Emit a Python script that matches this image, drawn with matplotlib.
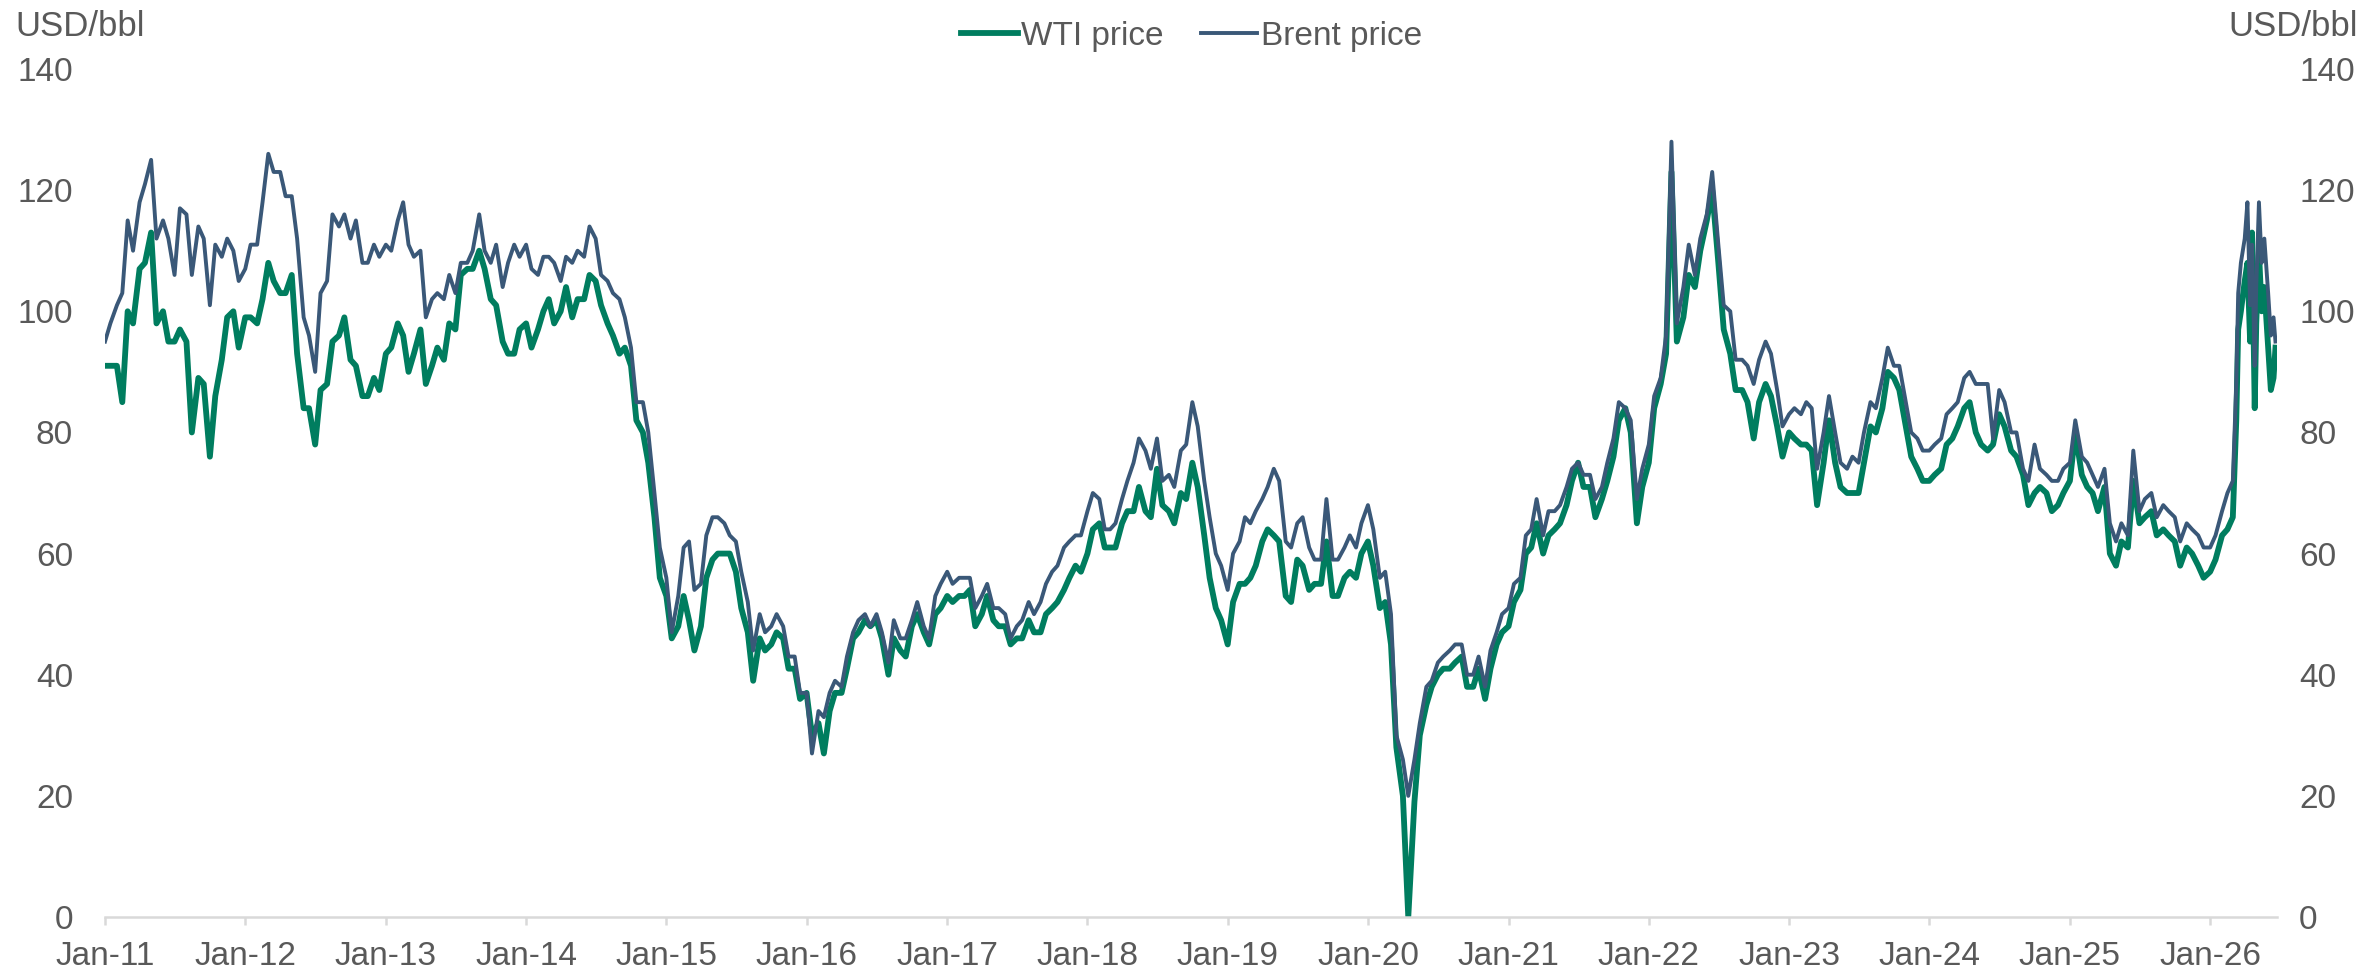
import numpy as np
import pandas as pd
import matplotlib
matplotlib.use('Agg')
import matplotlib.pyplot as plt
import matplotlib.dates as mdates

plt.rcParams['font.family'] = ['Liberation Sans', 'DejaVu Sans']
plt.rcParams['font.size'] = 24

# semi-monthly readings (1st and 15th), Jan-2011 .. Mar-2026
brent = [
    95, 98, 101, 103, 115, 110, 118, 121, 125, 112, 115, 112, 106, 117, 116, 106, 114, 112, 101, 111, 109, 112, 110, 105,  # 2011
    107, 111, 111, 118, 126, 123, 123, 119, 119, 112, 99, 96, 90, 103, 105, 116, 114, 116, 112, 115, 108, 108, 111, 109,  # 2012
    111, 110, 115, 118, 111, 109, 110, 99, 102, 103, 102, 106, 103, 108, 108, 110, 116, 110, 108, 111, 104, 108, 111, 109,  # 2013
    111, 107, 106, 109, 109, 108, 105, 109, 108, 110, 109, 114, 112, 106, 105, 103, 102, 99, 94, 85, 85, 80, 70, 61,  # 2014
    56, 47, 53, 61, 62, 54, 55, 63, 66, 66, 65, 63, 62, 57, 52, 44, 50, 47, 48, 50, 48, 43, 43, 37,  # 2015
    37, 27, 34, 33, 37, 39, 38, 43, 47, 49, 50, 48, 50, 47, 42, 49, 46, 46, 49, 52, 48, 46, 53, 55,  # 2016
    57, 55, 56, 56, 56, 51, 53, 55, 51, 51, 50, 46, 48, 49, 52, 50, 52, 55, 57, 58, 61, 62, 63, 63,  # 2017
    67, 70, 69, 64, 64, 65, 69, 72, 75, 79, 77, 74, 79, 72, 73, 71, 77, 78, 85, 81, 72, 66, 60, 58,  # 2018
    54, 60, 62, 66, 65, 67, 69, 71, 74, 72, 62, 61, 65, 66, 61, 59, 59, 69, 59, 59, 61, 63, 61, 65,  # 2019
    68, 64, 56, 57, 50, 30, 26, 20, 26, 32, 38, 39, 42, 43, 44, 45, 45, 40, 40, 43, 38, 44, 47, 50,  # 2020
    51, 55, 56, 63, 64, 69, 63, 67, 67, 68, 71, 74, 75, 73, 73, 69, 71, 75, 79, 85, 84, 82, 69, 74,  # 2021
    78, 86, 89, 96, 128, 98, 104, 111, 106, 112, 116, 123, 111, 101, 100, 92, 92, 91, 88, 92, 95, 93, 87, 81,  # 2022
    83, 84, 83, 85, 84, 74, 80, 86, 80, 75, 74, 76, 75, 80, 85, 84, 89, 94, 91, 91, 85, 80, 79, 77,  # 2023
    77, 78, 79, 83, 84, 85, 89, 90, 88, 88, 88, 79, 87, 85, 80, 80, 74, 72, 78, 74, 73, 72, 72, 74,  # 2024
    75, 82, 76, 75, 73, 71, 74, 65, 62, 65, 63, 77, 67, 69, 70, 66, 68, 67, 66, 62, 65, 64, 63, 61,  # 2025
    61, 63, 67, 70, 72,  # 2026 Jan-Mar
]
wti = [
    91, 91, 91, 85, 100, 98, 107, 108, 113, 98, 100, 95, 95, 97, 95, 80, 89, 88, 76, 86, 92, 99, 100, 94,  # 2011
    99, 99, 98, 102, 108, 105, 103, 103, 106, 93, 84, 84, 78, 87, 88, 95, 96, 99, 92, 91, 86, 86, 89, 87,  # 2012
    93, 94, 98, 96, 90, 93, 97, 88, 91, 94, 92, 98, 97, 106, 107, 107, 110, 107, 102, 101, 95, 93, 93, 97,  # 2013
    98, 94, 97, 100, 102, 98, 100, 104, 99, 102, 102, 106, 105, 101, 98, 96, 93, 94, 91, 82, 80, 75, 66, 56,  # 2014
    53, 46, 48, 53, 49, 44, 48, 56, 59, 60, 60, 60, 57, 51, 47, 39, 46, 44, 45, 47, 46, 41, 41, 36,  # 2015
    37, 30, 32, 27, 34, 37, 37, 41, 46, 47, 49, 48, 49, 46, 40, 46, 44, 43, 48, 50, 47, 45, 50, 51,  # 2016
    53, 52, 53, 53, 54, 48, 50, 53, 49, 48, 48, 45, 46, 46, 49, 47, 47, 50, 51, 52, 54, 56, 58, 57,  # 2017
    60, 64, 65, 61, 61, 61, 65, 67, 67, 71, 67, 66, 74, 68, 67, 65, 70, 69, 75, 71, 63, 56, 51, 49,  # 2018
    45, 52, 55, 55, 56, 58, 62, 64, 63, 62, 53, 52, 59, 58, 54, 55, 55, 62, 53, 53, 56, 57, 56, 60,  # 2019
    62, 58, 51, 52, 45, 28, 20, 0, 19, 30, 35, 38, 40, 41, 41, 42, 43, 38, 38, 41, 36, 41, 45, 47,  # 2020
    48, 52, 54, 60, 61, 65, 60, 63, 64, 65, 68, 72, 75, 71, 71, 66, 69, 72, 76, 82, 84, 80, 65, 71,  # 2021
    75, 84, 88, 93, 123, 95, 99, 106, 104, 110, 115, 120, 108, 97, 93, 87, 87, 85, 79, 85, 88, 86, 81, 76,  # 2022
    80, 79, 78, 78, 77, 68, 75, 82, 75, 71, 70, 70, 70, 75, 81, 80, 84, 90, 89, 87, 81, 76, 74, 72,  # 2023
    72, 73, 74, 78, 79, 81, 84, 85, 80, 78, 77, 78, 83, 81, 77, 76, 73, 68, 70, 71, 70, 67, 68, 70,  # 2024
    72, 80, 73, 71, 70, 67, 71, 60, 58, 62, 61, 72, 65, 66, 67, 63, 64, 63, 62, 58, 61, 60, 58, 56,  # 2025
    57, 59, 63, 64, 66,  # 2026 Jan-Mar
]

# spring 2026 spike, read at finer spacing
spike_dates = ['2026-03-10', '2026-03-15', '2026-03-22', '2026-04-01', '2026-04-08', '2026-04-15',
               '2026-04-20', '2026-04-27', '2026-05-01', '2026-05-08', '2026-05-15', '2026-05-22',
               '2026-06-01', '2026-06-08', '2026-06-15', '2026-06-20']
brent_spike = [88, 103, 108, 112, 118, 101, 111, 91, 104, 118, 108, 112, 103, 96, 99, 95]
wti_spike = [82, 97, 100, 105, 108, 95, 113, 84, 98, 110, 100, 104, 94, 87, 89, 94]

yticks = [0, 20, 40, 60, 80, 100, 120, 140]

dates = list(pd.date_range('2011-01-01', '2026-03-01', freq='SMS')) + list(pd.to_datetime(spike_dates))
brent_all = brent + brent_spike
wti_all = wti + wti_spike

green = '#007D5F'
navy = '#3A5878'
grey = '#595959'
axcol = '#D9D9D9'

fig = plt.figure(figsize=(23.69, 9.76), dpi=100)
ax = fig.add_axes([105/2369, 1-917/976, (2277-105)/2369, (917-69)/976])

ax.plot(dates, wti_all, color=green, lw=4.2, label='WTI price', solid_joinstyle='round')
ax.plot(dates, brent_all, color=navy, lw=2.8, label='Brent price', solid_joinstyle='round')

ax.set_ylim(0, 140)
ax.set_xlim(pd.Timestamp('2011-01-01'), pd.Timestamp('2026-06-24'))
ax.set_yticks(yticks)
ax.xaxis.set_major_locator(mdates.YearLocator(month=1, day=1))
ax.xaxis.set_major_formatter(mdates.DateFormatter('%b-%y'))

for s in ['top', 'left', 'right']:
    ax.spines[s].set_visible(False)
ax.spines['bottom'].set_color(axcol)
ax.spines['bottom'].set_linewidth(1.8)
ax.tick_params(axis='x', direction='out', length=6, width=1.8, color=axcol, labelcolor=grey, pad=11)
ax.tick_params(axis='y', length=0, labelcolor=grey, pad=23)

ax2 = ax.twinx()
ax2.set_ylim(0, 140)
ax2.set_yticks(yticks)
for s in ['top', 'left', 'right', 'bottom']:
    ax2.spines[s].set_visible(False)
ax2.tick_params(axis='y', length=0, labelcolor=grey, pad=16)

fig.text(15/2369, 1-27/976, 'USD/bbl', color=grey, ha='left', va='center', fontsize=25)
fig.text(2358/2369, 1-27/976, 'USD/bbl', color=grey, ha='right', va='center', fontsize=25)

fig.legend(loc='center', bbox_to_anchor=(0.503, 1-36/976), ncol=2, frameon=False,
           handlelength=1.7, handletextpad=0.1, columnspacing=1.1, labelcolor=grey)

fig.savefig('out.png', dpi=100)
